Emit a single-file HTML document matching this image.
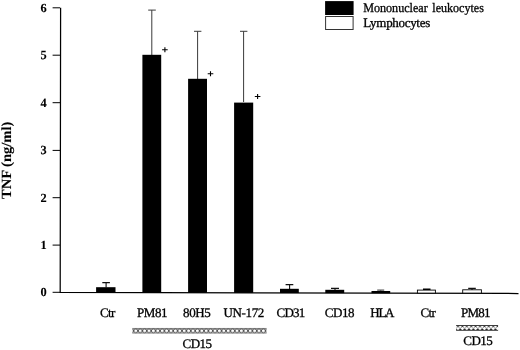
<!DOCTYPE html>
<html><head><meta charset="utf-8">
<style>
html,body{margin:0;padding:0;background:#fff;}
svg{display:block;}
text{text-rendering:geometricPrecision;font-family:"Liberation Serif",serif;fill:#000;stroke:#000;stroke-width:0.3px;}
.b,.b text{font-weight:bold;stroke-width:0.1px;}
</style></head><body>
<svg width="520" height="350" viewBox="0 0 520 350">
<defs>
<pattern id="h1" x="133.6" y="327.9" width="4.4" height="5.8" patternUnits="userSpaceOnUse">
<rect width="4.4" height="5.8" fill="#c0c0c0"/>
<rect width="4.4" height="0.8" fill="#777"/>
<rect y="5.1" width="4.4" height="0.7" fill="#999"/>
<circle cx="2.2" cy="2.9" r="1.9" fill="#fff" stroke="#222" stroke-width="0.7"/>
</pattern>
<pattern id="h2" x="455.8" y="325" width="4.4" height="6" patternUnits="userSpaceOnUse">
<rect width="4.4" height="6" fill="#222"/>
<path d="M2.2 1.75L4.25 3.5L2.2 5.25L0.15 3.5Z" fill="#fff"/>
<path d="M0 0.4L1.8 1.8L0 3.2L-1.8 1.8ZM4.4 0.4L6.2 1.8L4.4 3.2L2.6 1.8Z" fill="#fff"/>
<rect width="4.4" height="0.85" fill="#333"/>
<rect y="5.15" width="4.4" height="0.85" fill="#444"/>
</pattern>
</defs>
<rect width="520" height="350" fill="#fff"/>
<!-- axes -->
<g stroke="#000" stroke-width="1.2" fill="none">
<path d="M60.6 7.8L60.2 292.3L518.5 293.5" stroke-width="1.25"/>
<path d="M52.6 7.8H60M52.6 55.2H60M52.6 102.7H60M52.6 150.4H60M52.6 197.7H60M52.6 245.1H60M52.6 292.3H60" stroke-width="1"/>
</g>
<!-- y tick labels -->
<g class="b" font-size="12.4" text-anchor="middle">
<text x="43.7" y="11.6">6</text>
<text x="43.7" y="59.1">5</text>
<text x="43.7" y="106.8">4</text>
<text x="43.7" y="154.2">3</text>
<text x="43.7" y="201.7">2</text>
<text x="43.7" y="249.1">1</text>
<text x="43.7" y="296.2">0</text>
</g>
<text class="b" font-size="14" transform="translate(10.9 199) rotate(-90)" textLength="77.3" lengthAdjust="spacingAndGlyphs">TNF (ng/ml)</text>
<!-- error bars -->
<g stroke="#3a3a3a" stroke-width="1" fill="none">
<path d="M151.8 55V10.1M148.2 10.1H155.8"/>
<path d="M197.6 79V31.3M194 31.3H201.4"/>
<path d="M243.6 102V31.3M240 31.3H247.4"/>
</g>
<g stroke="#111" stroke-width="1.1" fill="none">
<path d="M106.1 287.5V282.6M102.3 282.6H109.9"/>
<path d="M289.6 289V284.6M285.6 284.6H293.3"/>
<path d="M335 290V288.4M331 288.4H339"/>
<path d="M380.7 291V290.1M377.2 290.1H384.2" stroke="#555"/>
<path d="M426.7 290V289.3M423 289.3H430.5" stroke-width="1.4" stroke="#000"/>
<path d="M472 290V288.4M468.2 288.4H475.8" stroke-width="1.3"/>
</g>
<!-- bars -->
<g fill="#000">
<rect x="96.1" y="287.2" width="19.4" height="5.3"/>
<rect x="142.4" y="54.8" width="18.8" height="237.8"/>
<rect x="188.1" y="78.8" width="18.9" height="214"/>
<rect x="234.1" y="102.6" width="19.1" height="190.3"/>
<rect x="280" y="288.8" width="18.8" height="4.2"/>
<rect x="325.3" y="289.8" width="18.9" height="3.3"/>
<rect x="371.5" y="291" width="18.7" height="2.2"/>
</g>
<g fill="#fff" stroke="#000" stroke-width="0.9">
<rect x="417.4" y="290.1" width="18" height="3"/>
<rect x="462.7" y="289.8" width="18.7" height="3.3"/>
</g>
<!-- plus -->
<g stroke="#000" stroke-width="1.1">
<path d="M162.1 49.7H167.7M164.9 47.2V52.2"/>
<path d="M207.7 73.7H213.3M210.5 71.2V76.2"/>
<path d="M254.8 96.5H260.4M257.6 94V99"/>
</g>
<!-- x labels -->
<g font-size="13" lengthAdjust="spacingAndGlyphs">
<text x="99.9" y="316.7" textLength="15.4">Ctr</text>
<text x="137.0" y="316.8" textLength="30.6">PM81</text>
<text x="183.1" y="316.85" textLength="27.65">80H5</text>
<text x="223.55" y="316.9" textLength="40.75">UN-172</text>
<text x="276.5" y="317.0" textLength="28.8">CD31</text>
<text x="324.85" y="317.0" textLength="29.7">CD18</text>
<text x="370.25" y="317.2" textLength="24.25">HLA</text>
<text x="420.45" y="317.3" textLength="15.4">Ctr</text>
<text x="461.0" y="317.4" textLength="29.6">PM81</text>
<text x="182.5" y="348.1" textLength="29.45">CD15</text>
<text x="463.2" y="345.2" textLength="29.6">CD15</text>
</g>
<!-- hatched -->
<rect x="132.3" y="327.95" width="134.3" height="5.7" fill="url(#h1)"/>
<rect x="456.1" y="325.05" width="42" height="5.8" fill="url(#h2)"/>
<!-- legend -->
<rect x="325.1" y="1.1" width="28.5" height="13.9" fill="#000"/>
<rect x="325.6" y="16.5" width="27.5" height="13" fill="#fff" stroke="#333" stroke-width="1"/>
<g font-size="13" lengthAdjust="spacingAndGlyphs">
<text y="11.7"><tspan x="363.2" textLength="64.5" lengthAdjust="spacingAndGlyphs">Mononuclear</tspan> <tspan x="432.3" textLength="51.6" lengthAdjust="spacingAndGlyphs">leukocytes</tspan></text>
<text x="363.2" y="26.7" textLength="67">Lymphocytes</text>
</g>
</svg>
</body></html>
